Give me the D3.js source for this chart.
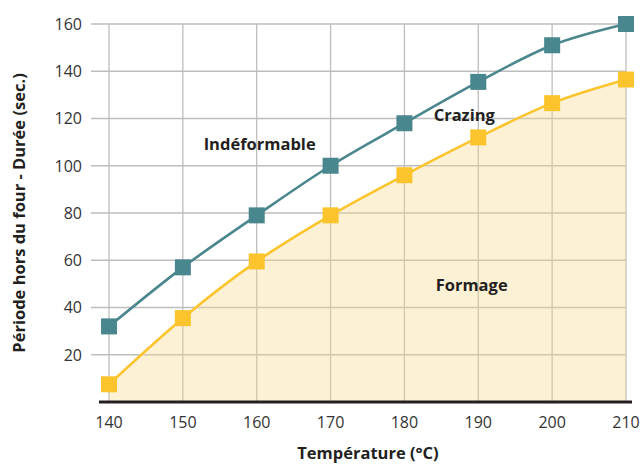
<!DOCTYPE html>
<html><head><meta charset="utf-8">
<script src="https://cdn.jsdelivr.net/npm/d3@7"></script>
<style>body{margin:0;background:#fff}svg{display:block}text{font-family:"Open Sans","Noto Sans",sans-serif}</style>
</head><body><svg id="c" width="643" height="464"></svg>
<script>
const temperatures = [140,150,160,170,180,190,200,210];
const crazingLimit = [32,57,79,100,118,135.5,151,160];
const formageLimit = [7.5,35.5,59.5,79,96,112,126.5,136.5];
const yTicks = [20,40,60,80,100,120,140,160];
const xTicks = [140,150,160,170,180,190,200,210];
const regionLabels = [
  {text:"Indéformable", x:160.4, y:109},
  {text:"Crazing", x:188.1, y:121.5},
  {text:"Formage", x:189.1, y:49.5}
];

const svg = d3.select("#c");
const x = d3.scaleLinear().domain([140,210]).range([109,626]);
const y = d3.scaleLinear().domain([0,160]).range([402,24]);

// grid
const g = svg.append("g");
g.selectAll(".hg").data(yTicks).join("line")
  .attr("x1",91).attr("x2",x(210)).attr("y1",d=>y(d)).attr("y2",d=>y(d))
  .attr("stroke","#bdbdbd").attr("stroke-width",1.3);
g.selectAll(".vg").data(xTicks).join("line")
  .attr("x1",d=>x(d)).attr("x2",d=>x(d)).attr("y1",y(160)).attr("y2",y(0))
  .attr("stroke","#bdbdbd").attr("stroke-width",1.3);

const curve = d3.curveMonotoneX;
const yel = temperatures.map((t,i)=>[t,formageLimit[i]]);
const teal = temperatures.map((t,i)=>[t,crazingLimit[i]]);

svg.append("path").datum(yel)
  .attr("d", d3.area().x(d=>x(d[0])).y0(y(0)).y1(d=>y(d[1])).curve(curve))
  .attr("fill","#f7d98a").attr("fill-opacity",0.36);

// axis line
svg.append("line").attr("x1",99).attr("x2",632).attr("y1",y(0)).attr("y2",y(0))
  .attr("stroke","#231f20").attr("stroke-width",3);

const line = d3.line().x(d=>x(d[0])).y(d=>y(d[1])).curve(curve);
svg.append("path").datum(teal).attr("d",line).attr("fill","none").attr("stroke","#4a868e").attr("stroke-width",2.6);
svg.append("path").datum(yel).attr("d",line).attr("fill","none").attr("stroke","#fcc42c").attr("stroke-width",2.6);

const s = 16;
svg.selectAll(".mt").data(teal).join("rect")
  .attr("x",d=>x(d[0])-s/2).attr("y",d=>y(d[1])-s/2).attr("width",s).attr("height",s).attr("fill","#4a868e");
svg.selectAll(".my").data(yel).join("rect")
  .attr("x",d=>x(d[0])-s/2).attr("y",d=>y(d[1])-s/2).attr("width",s).attr("height",s).attr("fill","#fcc42c");

// tick labels
svg.selectAll(".yt").data(yTicks).join("text")
  .attr("x",82).attr("y",d=>y(d)).attr("dy","0.36em").attr("text-anchor","end")
  .attr("font-size",16).attr("fill","#333").text(d=>d);
svg.selectAll(".xt").data(xTicks).join("text")
  .attr("x",d=>x(d)).attr("y",428).attr("text-anchor","middle")
  .attr("font-size",16).attr("fill","#333").text(d=>d);

// axis titles
svg.append("text").attr("x",368).attr("y",459).attr("text-anchor","middle")
  .attr("font-size",16.5).attr("font-weight","bold").attr("fill","#231f20").text("Température (°C)");
svg.append("text").attr("transform","translate(25,213) rotate(-90)").attr("text-anchor","middle")
  .attr("font-size",16.5).attr("font-weight","bold").attr("fill","#231f20").text("Période hors du four - Durée (sec.)");

// region labels
svg.selectAll(".rl").data(regionLabels).join("text")
  .attr("x",d=>x(d.x)).attr("y",d=>y(d.y)).attr("dy","0.35em").attr("text-anchor","middle")
  .attr("font-size",16.5).attr("font-weight","bold").attr("fill","#231f20").text(d=>d.text);
</script></body></html>
